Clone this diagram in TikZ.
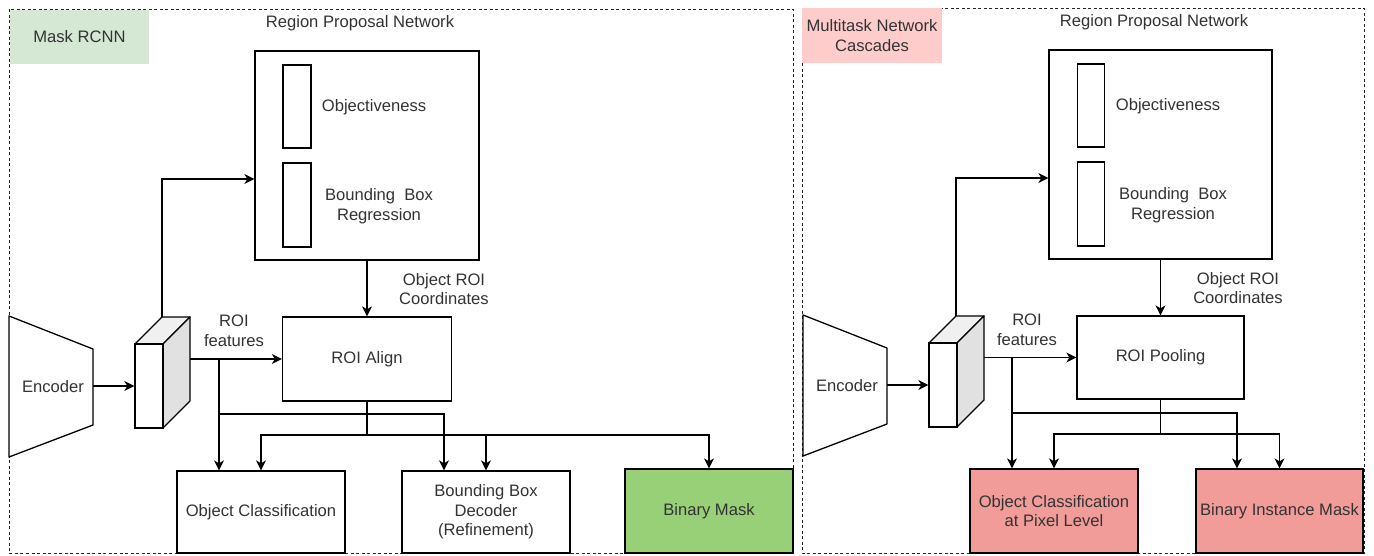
\documentclass[tikz,border=0pt]{standalone}
\usepackage{fontspec}
\setmainfont{Liberation Sans}
\usetikzlibrary{arrows.meta,calc}
\definecolor{txt}{HTML}{333333}
\definecolor{lblgreen}{HTML}{D5E8D4}
\definecolor{lblpink}{HTML}{FFCCCC}
\definecolor{boxgreen}{HTML}{97D077}
\definecolor{boxred}{HTML}{F19C99}
\definecolor{cubetop}{HTML}{F0F0F0}
\definecolor{cubeside}{HTML}{E1E1E1}
\begin{document}
\begin{tikzpicture}[x=1pt,y=-1pt,
  every node/.style={font=\fontsize{16.6}{19.5}\selectfont, text=txt},
  box/.style={draw=black, line width=1.3pt, inner sep=0pt},
  arr/.style={draw=black, line width=1.3pt, -{Stealth[length=10pt,width=10pt,inset=3pt]}},
  ln/.style={draw=black, line width=1.3pt, line join=round},
  frame/.style={draw=black!85, line width=1pt, dash pattern=on 3pt off 2.5pt},
  lbl/.style={inner sep=0pt, align=center}
]
\fill[white] (0,0) rectangle (1374,555);
\useasboundingbox (0,0) rectangle (1374,555);

% frames
\draw[frame] (9,9) rectangle (793,553);
\draw[frame] (802,8) rectangle (1364,553);

% panel labels
\node[lbl, fill=lblgreen, minimum width=139pt, minimum height=54pt] (lblL) at (79.5,37) {Mask RCNN};
\node[lbl, fill=lblpink, minimum width=140pt, minimum height=55pt] (lblR) at (872,35.5) {Multitask Network\\Cascades};

% ================= LEFT PANEL =================
\node (rpnTL) at (360,23) {Region Proposal Network};
\node[box, minimum width=224pt, minimum height=209pt] (rpnL) at (367,155.5) {};
\node[box, minimum width=28pt, minimum height=83pt] (objbarL) at (297,106.5) {};
\node[box, minimum width=28pt, minimum height=84pt] (bbbarL) at (297,205) {};
\node (objtL) at (374,107) {Objectiveness};
\node[align=center] (bbtL) at (379,206) {Bounding\ \ Box\\Regression};

\draw[ln, fill=white] (9,316) -- (93,349) -- (93,425) -- (9,457) -- cycle;
\node (encL) at (53,387) {Encoder};
\coordinate (encLR) at (93,386);

\draw[ln, fill=cubetop] (135,344) -- (162,317) -- (190,317) -- (163,344) -- cycle;
\draw[ln, fill=cubeside] (163,344) -- (190,317) -- (190,401) -- (163,428) -- cycle;
\node[box, fill=white, minimum width=28pt, minimum height=84pt] (cubeL) at (149,386) {};
\coordinate (cubeLT) at (162,317);
\coordinate (cubeLR) at (190,359);

\node[box, minimum width=169pt, minimum height=84pt] (roiL) at (367,359) {ROI Align};
\node[align=center] (coordL) at (444,289) {Object ROI\\Coordinates};
\node[align=center] (featL) at (234,331) {ROI\\features};

\node[box, minimum width=168pt, minimum height=82pt] (clsL) at (261,512) {Object Classification};
\node[box, minimum width=168pt, minimum height=82pt, align=center] (bbdL) at (486,512) {Bounding Box\\Decoder\\(Refinement)};
\node[box, fill=boxgreen, minimum width=168pt, minimum height=84pt] (maskL) at (709,511) {Binary Mask};

\draw[arr] (encLR) -- (cubeL.west);
\draw[arr] (cubeLT) |- ([yshift=-23.5pt]rpnL.west);
\draw[arr] (rpnL.south) -- (roiL.north);
\draw[arr] (cubeLR) -- (roiL.west);
\coordinate (j1L) at (219,359);
\coordinate (j2L) at (219,414);
\coordinate (j3L) at (367,435);
\draw[arr] (j1L) -- (j1L |- clsL.north);
\draw[arr] (j2L) -| ([xshift=-42pt]bbdL.north);
\draw[arr] (roiL.south) -- (j3L) -| (clsL.north);
\draw[arr] (j3L) -| (bbdL.north);
\draw[arr] (j3L) -| (maskL.north);

% ================= RIGHT PANEL =================
\node (rpnTR) at (1154,22) {Region Proposal Network};
\node[box, minimum width=223pt, minimum height=209pt] (rpnR) at (1160.5,154.5) {};
\node[box, minimum width=27pt, minimum height=83pt] (objbarR) at (1091,105.5) {};
\node[box, minimum width=27pt, minimum height=84pt] (bbbarR) at (1091,204) {};
\node (objtR) at (1168,106) {Objectiveness};
\node[align=center] (bbtR) at (1173,205) {Bounding\ \ Box\\Regression};

\draw[ln, fill=white] (803,315) -- (887,348) -- (887,424) -- (803,456) -- cycle;
\node (encR) at (847,386) {Encoder};
\coordinate (encRR) at (887,385);

\draw[ln, fill=cubetop] (929,343) -- (956,316) -- (984,316) -- (957,343) -- cycle;
\draw[ln, fill=cubeside] (957,343) -- (984,316) -- (984,400) -- (957,427) -- cycle;
\node[box, fill=white, minimum width=28pt, minimum height=84pt] (cubeR) at (943,385) {};
\coordinate (cubeRT) at (956,316);
\coordinate (cubeRR) at (984,357.5);

\node[box, minimum width=167pt, minimum height=83pt] (roiR) at (1160.5,357.5) {ROI Pooling};
\node[align=center] (coordR) at (1238,288) {Object ROI\\Coordinates};
\node[align=center] (featR) at (1027,330) {ROI\\features};

\node[box, fill=boxred, minimum width=168pt, minimum height=84pt, align=center] (clsR) at (1054,511) {Object Classification\\at Pixel Level};
\node[box, fill=boxred, minimum width=167pt, minimum height=84pt] (maskR) at (1279.5,511) {Binary Instance Mask};

\draw[arr] (encRR) -- (cubeR.west);
\draw[arr] (cubeRT) |- ([yshift=-23.5pt]rpnR.west);
\draw[arr] (rpnR.south) -- (roiR.north);
\draw[arr] (cubeRR) -- (roiR.west);
\coordinate (j1R) at (1012,357.5);
\coordinate (j2R) at (1012,413);
\coordinate (j3R) at (1160.5,434);
\draw[arr] (j1R) -- (j1R |- clsR.north);
\draw[arr] (j2R) -| ([xshift=-42.5pt]maskR.north);
\draw[arr] (roiR.south) -- (j3R) -| (clsR.north);
\draw[arr] (j3R) -| (maskR.north);
\end{tikzpicture}
\end{document}
